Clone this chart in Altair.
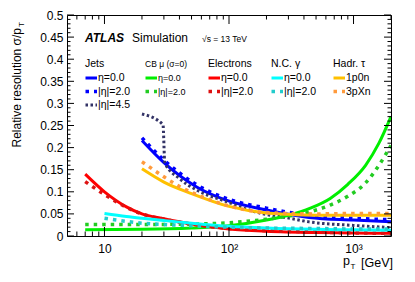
import altair as alt
import pandas as pd

# ---------------- data ----------------
jet_eta0_pt = [20, 30, 55, 95, 200, 440, 1000, 2000]
jet_eta0_res = [0.216, 0.166, 0.111, 0.081, 0.059, 0.042, 0.036, 0.032]
jet_eta2_pt = [20, 30, 55, 95, 200, 440, 1000, 2000]
jet_eta2_res = [0.222, 0.172, 0.116, 0.085, 0.063, 0.047, 0.040, 0.037]
jet_eta45_pt = [20, 29.5, 30.5, 40, 55, 95, 170, 310, 440, 1000, 2000]
jet_eta45_res = [0.276, 0.252, 0.166, 0.130, 0.104, 0.078, 0.053, 0.040, 0.032, 0.024, 0.019]

mu_pt = [7, 20, 50, 100, 200, 300, 450, 650, 900, 1250, 1600, 2000]
mu_eta0_res = [0.014, 0.015, 0.018, 0.023, 0.036, 0.047, 0.063, 0.085, 0.117, 0.160, 0.210, 0.270]
mu_eta2_res = [0.026, 0.026, 0.027, 0.030, 0.038, 0.045, 0.055, 0.070, 0.090, 0.120, 0.160, 0.205]

el_pt = [7, 10, 15, 20, 30, 50, 100, 200, 500, 1000, 2000]
el_eta0_res = [0.140, 0.100, 0.066, 0.050, 0.039, 0.027, 0.016, 0.011, 0.008, 0.007, 0.006]
el_eta2_res = [0.123, 0.094, 0.065, 0.050, 0.038, 0.027, 0.017, 0.012, 0.009, 0.007, 0.006]

ph_pt = [10, 15, 20, 30, 50, 100, 200, 500, 1000, 2000]
ph_eta0_res = [0.051, 0.044, 0.040, 0.035, 0.029, 0.022, 0.018, 0.015, 0.014, 0.013]
ph_eta2_res = [0.040, 0.033, 0.029, 0.026, 0.023, 0.020, 0.018, 0.017, 0.016, 0.016]

tau1_pt = [20, 30, 50, 100, 200, 300, 500, 1000, 2000]
tau1_res = [0.152, 0.122, 0.096, 0.067, 0.052, 0.049, 0.047, 0.047, 0.047]
tau3_pt = [20, 30, 40, 55, 100, 200, 500, 1000, 2000]
tau3_res = [0.168, 0.134, 0.112, 0.094, 0.068, 0.053, 0.050, 0.051, 0.051]

x_label_values = [10, 100, 1000]
y_label_values = [0, 0.05, 0.1, 0.15, 0.2, 0.25, 0.3, 0.35, 0.4, 0.45, 0.5]
x_major_ticks = [10, 100, 1000]
x_minor_ticks = [6, 7, 8, 9, 20, 30, 40, 50, 60, 70, 80, 90,
                 200, 300, 400, 500, 600, 700, 800, 900, 2000]
y_major_ticks = y_label_values
y_minor_ticks = [round(i * 0.01, 2) for i in range(51) if i % 5 != 0]

# ---------------- layout ----------------
W, H = 324, 221
FONT = "Liberation Sans"

X = alt.X("pt:Q", scale=alt.Scale(type="log", domain=[5, 2000]),
          axis=alt.Axis(values=x_label_values, ticks=False, domain=False, grid=False,
                        title=None, labelPadding=7, labelFontSize=12, labelFont=FONT,
                        labelColor="black",
                        labelExpr="datum.value == 10 ? '10' : datum.value == 100 ? '10²' : '10³'"))
Y = alt.Y("res:Q", scale=alt.Scale(domain=[0, 0.5]),
          axis=alt.Axis(values=y_label_values, ticks=False, domain=False, grid=False,
                        title=None, labelPadding=4, labelFontSize=12, labelFont=FONT,
                        labelColor="black", format=".2~f"))

layers = []


def series(pt, res, color, width, dash=None):
    df = pd.DataFrame({"pt": pt, "res": res, "i": list(range(len(pt)))})
    kw = dict(color=color, strokeWidth=width, interpolate="monotone", clip=True)
    if dash:
        kw["strokeDash"] = dash
    return alt.Chart(df).mark_line(**kw).encode(x=X, y=Y, order="i:Q")


SQ = [3.5, 5]
DOT = [2.5, 2.5]
C_BLUE, C_NAVY = "#0000ff", "#333366"
C_GREEN, C_GREEN2 = "#00ee00", "#22cc22"
C_RED, C_RED2 = "#ff0000", "#dd1111"
C_CYAN, C_CYAN2 = "#00ffff", "#22cccc"
C_TAU1, C_TAU3 = "#ffc000", "#ff9a3c"

layers += [
    series(jet_eta0_pt, jet_eta0_res, C_BLUE, 3),
    series(jet_eta2_pt, jet_eta2_res, C_BLUE, 3.5, SQ),
    series(jet_eta45_pt, jet_eta45_res, C_NAVY, 3, DOT),
    series(mu_pt, mu_eta0_res, C_GREEN, 3),
    series(mu_pt, mu_eta2_res, C_GREEN2, 3.5, SQ),
    series(el_pt, el_eta0_res, C_RED, 3),
    series(el_pt, el_eta2_res, C_RED2, 3.5, SQ),
    series(ph_pt, ph_eta0_res, C_CYAN, 3),
    series(ph_pt, ph_eta2_res, C_CYAN2, 3.5, SQ),
    series(tau1_pt, tau1_res, C_TAU1, 3),
    series(tau3_pt, tau3_res, C_TAU3, 3.5, SQ),
]

# ---------------- inward ticks (ROOT style) ----------------
def xticks(vals, length):
    df = pd.DataFrame({"pt": vals})
    b = alt.Chart(df).mark_rule(color="black", strokeWidth=1).encode(
        x=X, y=alt.value(H), y2=alt.value(H - length))
    t = alt.Chart(df).mark_rule(color="black", strokeWidth=1).encode(
        x=X, y=alt.value(0), y2=alt.value(length))
    return [b, t]


def yticks(vals, length):
    df = pd.DataFrame({"res": vals})
    l = alt.Chart(df).mark_rule(color="black", strokeWidth=1).encode(
        y=Y, x=alt.value(0), x2=alt.value(length))
    r = alt.Chart(df).mark_rule(color="black", strokeWidth=1).encode(
        y=Y, x=alt.value(W), x2=alt.value(W - length))
    return [l, r]


layers += xticks(x_major_ticks, 9) + xticks(x_minor_ticks, 4.5)
layers += yticks(y_major_ticks, 7) + yticks(y_minor_ticks, 3.5)

one = pd.DataFrame({"k": [0]})


def text(s, x, y, size, align="left", weight="normal", style="normal", angle=0, baseline="middle"):
    kw = dict(text=s, font=FONT, fontSize=size, align=align, baseline=baseline,
              fontWeight=weight, fontStyle=style, color="black")
    if angle:
        kw["angle"] = angle
    return alt.Chart(one).mark_text(**kw).encode(x=alt.value(x), y=alt.value(y))


def swatch(x1, x2, y, color, width, dash=None):
    kw = dict(color=color, strokeWidth=width)
    if dash:
        kw["strokeDash"] = dash
    return alt.Chart(one).mark_rule(**kw).encode(x=alt.value(x1), x2=alt.value(x2), y=alt.value(y))


# ATLAS label
layers += [
    text("ATLAS", 18, 23, 12, weight="bold", style="italic"),
    text("Simulation", 65, 23, 12),
    text("√s = 13 TeV", 135, 24, 8.5),
]

# legend
HY, R1, R2, R3 = 49, 63, 76.5, 90
cols = [
    ("Jets", 18, 10.5, [("η=0.0", C_BLUE, 3, None), ("|η|=2.0", C_BLUE, 3.5, SQ), ("|η|=4.5", C_NAVY, 3, DOT)]),
    ("CB μ (σ=0)", 78, 8.5, [("η=0.0", C_GREEN, 3, None), ("|η|=2.0", C_GREEN2, 3.5, SQ)]),
    ("Electrons", 141, 10.5, [("η=0.0", C_RED, 3, None), ("|η|=2.0", C_RED2, 3.5, SQ)]),
    ("N.C. γ", 204, 10.5, [("η=0.0", C_CYAN, 3, None), ("|η|=2.0", C_CYAN2, 3.5, SQ)]),
    ("Hadr. τ", 266, 10.5, [("1p0n", C_TAU1, 3, None), ("3pXn", C_TAU3, 3.5, SQ)]),
]
for head, cx, fs, entries in cols:
    layers.append(text(head, cx, HY, fs))
    for (lab, col, w, dash), ry in zip(entries, [R1, R2, R3]):
        layers.append(swatch(cx + 0.5, cx + 12, ry, col, w, dash))
        layers.append(text(lab, cx + 13, ry, fs if fs > 9 else 9))

# axis titles
layers += [
    text("Relative resolution σ/p", -50, 13, 12, align="right", angle=270),
    text("T", -45, 7, 8, align="right", angle=270),
    text("[GeV]", 326, 248, 12.5, align="right"),
    text("p", 283, 246, 12.5, align="right"),
    text("T", 283.5, 252, 8),
]

chart = alt.layer(*layers).properties(
    width=W, height=H,
    autosize=alt.AutoSizeParams(type="none"),
    padding={"left": 59, "top": 7, "right": 8, "bottom": 38},
).configure_view(stroke="black", strokeWidth=1)

chart.save("out.html", embed_options={"renderer": "svg", "actions": False})
